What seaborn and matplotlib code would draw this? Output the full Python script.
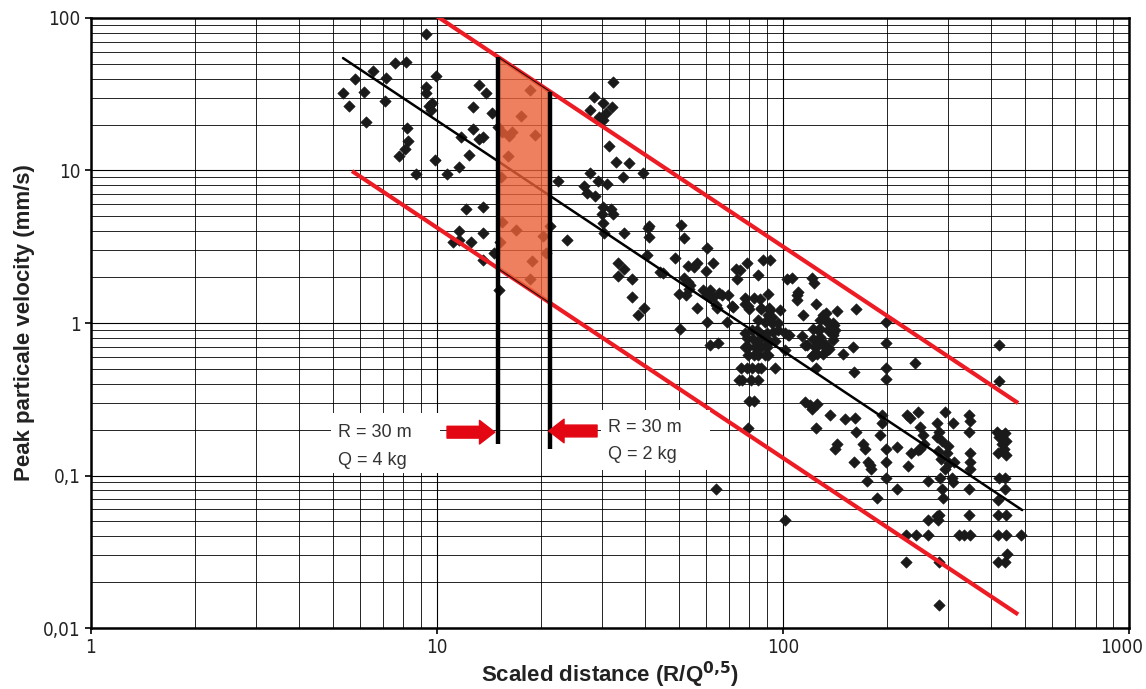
import numpy as np
import pandas as pd
import matplotlib.pyplot as plt
import matplotlib.transforms as mtransforms
import seaborn as sns
from matplotlib.patches import Rectangle
from matplotlib.ticker import NullFormatter

# measured blasts: scaled distance (R/Q^0.5) and peak particle velocity (mm/s)
scaled_distance = [
    5.34, 5.58, 5.78, 6.14, 6.23, 6.52, 7.11, 7.09, 7.56, 8.12, 8.17, 8.26, 8.09, 7.78, 8.67,
    9.3, 9.29, 9.29, 9.69, 9.5, 9.59, 9.91, 9.87,
    10.66, 11.6, 12.4, 12.7, 13.2, 13.6, 11.7, 13.2, 13.9, 12.7, 14.4, 12.1, 13.6, 11.6, 13.6,
    11.1, 11.6, 12.5, 13.6, 14.6, 15.1, 15.0,
    18.6, 17.5, 15.4, 16.5, 16.1, 19.2, 16.0, 15.3, 15.4, 16.9, 15.2, 20.2, 18.8, 20.7, 18.6, 21.2,
    22.3, 23.7, 32.2, 28.5, 27.6, 30.1, 32.0, 30.8, 29.3, 30.1, 31.5, 32.9, 35.9, 34.4, 39.5,
    27.6, 29.1, 30.9, 26.6, 27.1, 28.6, 30.1, 31.8, 29.9, 32.2, 30.2, 34.8, 30.4, 33.4, 34.7,
    33.3, 36.7, 36.5, 40.7, 41.1, 40.9, 40.4, 39.7, 38.2, 44.1, 45.1,
    48.7, 50.6, 51.9, 60.1, 53.2, 55.3, 56.3, 59.9, 62.8, 51.7, 53.2, 50.2, 52.6, 53.6, 56.3,
    50.4, 58.9, 61.5, 60.4, 62.6, 65.4, 66.5, 69.2, 64.3, 71.5, 60.1, 68.7, 61.5, 65.0, 53.8,
    61.6, 64.0, 64.0, 71.3,
    73.1, 75.1, 73.5, 78.5, 84.9, 87.7, 91.7, 77.6, 79.4, 82.4, 85.8, 90.2, 86.2, 91.2, 92.7,
    77.6, 79.8, 86.3, 91.6, 97.9, 90.6, 84.9, 88.7, 92.7, 96.9,
    77.6, 81.1, 83.9, 86.7, 89.7, 93.7, 96.9, 101.3, 103.6, 78.5, 82.0, 84.9, 89.7, 94.8, 90.6,
    77.6, 79.4, 83.1, 86.3, 89.7, 101.3, 79.4, 82.4, 84.9, 88.7, 90.6,
    75.7, 78.5, 81.1, 84.9, 86.3, 94.8, 74.6, 76.2, 80.7, 84.9, 79.8, 82.4, 79.4,
    102.5, 106.0, 121.0, 123.0, 109.6, 110.7, 124.4, 114.5, 103.8, 113.2, 130.8, 133.0, 128.0,
    132.0, 126.5, 122.4, 133.6, 139.7, 138.3, 140.4, 135.2, 141.3, 128.0, 139.0, 139.7, 139.7,
    128.0, 122.4, 117.0, 115.8, 123.6, 126.5, 130.3, 132.0, 135.0, 133.6, 136.2, 125.0, 130.3,
    122.4, 121.6, 143.0, 162.5, 158.8, 149.3, 160.4, 124.4, 109.6,
    198.5, 198.5, 198.5, 198.5, 241.0, 421.0, 421.0,
    115.6, 120.0, 125.0, 121.0, 124.7, 136.7, 151.0, 161.4, 163.0, 192.8, 192.8, 190.5, 143.5,
    141.3, 170.6, 172.6, 160.7, 178.4, 199.0, 199.0, 213.0, 227.6, 232.8, 246.0, 249.0, 253.0,
    233.9, 249.0, 279.0, 283.0, 294.0, 278.0, 287.5, 300.7, 310.6, 343.6, 347.4, 345.3, 347.0,
    347.0, 347.0, 416.0, 438.5, 428.5, 419.0, 435.5, 441.5, 287.0, 301.0, 229.0, 246.0, 422.0,
    441.0, 176.0, 179.0, 255.0, 281.0, 297.0, 312.0, 294.0,
    174.6, 187.4, 198.5, 213.0, 263.0, 284.5, 287.5, 289.0, 307.0, 310.6, 345.0, 422.0, 438.0,
    438.0, 418.0,
    263.0, 278.0, 283.0, 280.0, 345.0, 418.0, 441.0,
    227.0, 243.0, 263.0, 321.5, 333.6, 347.4, 418.0, 441.0, 486.0,
    227.0, 283.0, 418.0, 445.0, 438.0, 283.0, 101.0,
]
ppv = [
    32.1, 26.5, 39.8, 32.9, 20.9, 45.1, 40.3, 28.7, 50.9, 51.7, 18.9, 15.7, 13.8, 12.5, 9.5,
    78.5, 35.5, 32.4, 27.9, 26.5, 24.9, 41.7, 11.7,
    9.5, 10.6, 12.6, 18.6, 16.1, 16.5, 16.6, 36.4, 32.4, 25.9, 23.7, 5.6, 5.8, 4.0, 3.9,
    3.4, 3.5, 3.4, 2.59, 2.87, 1.64, 19.3,
    33.7, 22.9, 17.9, 17.9, 16.9, 17.1, 12.5, 9.1, 4.6, 4.1, 3.4, 3.7, 2.56, 2.87, 1.95, 4.3,
    8.5, 3.5, 38.2, 30.5, 24.9, 27.6, 25.9, 23.9, 22.5, 21.4, 14.5, 11.4, 11.2, 9.0, 9.7,
    9.7, 8.5, 8.2, 7.9, 7.1, 6.8, 5.8, 5.6, 5.2, 5.2, 4.5, 3.9, 3.9, 2.46, 2.26,
    2.04, 1.95, 1.49, 4.2, 4.3, 3.65, 2.79, 1.25, 1.13, 2.17, 2.12,
    2.66, 4.4, 3.59, 3.09, 2.37, 2.32, 2.49, 2.2, 2.49, 1.96, 1.87, 1.54, 1.53, 1.66, 1.25,
    0.92, 1.64, 1.64, 1.53, 1.49, 1.58, 1.53, 1.53, 1.26, 1.28, 1.02, 1.02, 0.72, 0.74, 1.77,
    1.47, 1.31, 0.081, 1.29,
    2.25, 2.23, 1.95, 2.49, 2.07, 2.59, 2.59, 1.45, 1.29, 1.45, 1.43, 1.54, 1.25, 1.25, 1.1,
    1.33, 1.23, 1.23, 1.22, 1.22, 1.13, 1.05, 1.02, 1.0, 1.0,
    0.855, 0.9, 0.9, 0.83, 0.855, 0.87, 0.9, 0.855, 0.83, 0.795, 0.78, 0.76, 0.78, 0.76, 0.74,
    0.70, 0.70, 0.70, 0.70, 0.70, 0.665, 0.62, 0.62, 0.62, 0.62, 0.62,
    0.51, 0.51, 0.51, 0.51, 0.51, 0.51, 0.42, 0.42, 0.42, 0.42, 0.31, 0.31, 0.204,
    1.94, 1.96, 1.96, 1.82, 1.53, 1.6, 1.33, 1.13, 0.83, 0.82, 1.13, 1.16, 1.05,
    1.07, 0.9, 0.92, 1.02, 1.0, 0.95, 0.97, 0.9, 0.9, 0.91, 0.86, 0.83, 0.77,
    0.81, 0.79, 0.72, 0.72, 0.70, 0.72, 0.72, 0.73, 0.70, 0.67, 0.68, 0.63, 0.63,
    0.62, 0.61, 1.19, 1.23, 0.70, 0.63, 0.48, 0.51, 1.42,
    1.02, 0.74, 0.51, 0.43, 0.55, 0.72, 0.417,
    0.305, 0.29, 0.295, 0.275, 0.204, 0.25, 0.234, 0.237, 0.194, 0.25, 0.22, 0.185, 0.162,
    0.15, 0.162, 0.149, 0.123, 0.117, 0.15, 0.123, 0.153, 0.25, 0.237, 0.262, 0.209, 0.185,
    0.14, 0.149, 0.22, 0.194, 0.262, 0.18, 0.169, 0.155, 0.222, 0.25, 0.229, 0.194, 0.14,
    0.123, 0.111, 0.194, 0.19, 0.162, 0.14, 0.15, 0.136, 0.129, 0.12, 0.115, 0.147, 0.18,
    0.168, 0.123, 0.111, 0.162, 0.144, 0.14, 0.123, 0.111,
    0.092, 0.071, 0.097, 0.081, 0.092, 0.097, 0.081, 0.071, 0.097, 0.09, 0.082, 0.097, 0.097,
    0.082, 0.069,
    0.051, 0.054, 0.055, 0.051, 0.055, 0.055, 0.055,
    0.041, 0.041, 0.041, 0.041, 0.041, 0.041, 0.041, 0.041, 0.041,
    0.0272, 0.0272, 0.0272, 0.0308, 0.0272, 0.0142, 0.051,
]

# attenuation law PPV = k * SD^-b (mean and bounds)
b_exp = 1.51
k_mean, k_upper, k_lower = 687.0, 3319.0, 136.5
mean_range = (5.35, 491.0)
upper_range = (9.9, 478.0)
lower_range = (5.68, 478.0)

# scaled distances for R = 30 m with Q = 4 kg and Q = 2 kg
sd_q4 = 30 / 4 ** 0.5
sd_q2 = 30 / 2 ** 0.5
marker_bottom = [0.16, 0.15]

x_ticks = [1, 10, 100, 1000]
x_labels = ['1', '10', '100', '1000']
y_ticks = [0.01, 0.1, 1, 10, 100]
y_labels = ['0,01', '0,1', '1', '10', '100']

sns.set_style('white')
plt.rcParams['font.family'] = ['Liberation Sans', 'DejaVu Sans']

fig, ax = plt.subplots(figsize=(11.46, 6.89), dpi=100)
fig.subplots_adjust(left=0.0794, right=0.9852, top=0.9739, bottom=0.0885)

df = pd.DataFrame({'sd': scaled_distance, 'ppv': ppv})
sns.scatterplot(data=df, x='sd', y='ppv', marker='D', color='#1a1a1a', s=34,
                edgecolor='#1a1a1a', linewidth=0.4, ax=ax, zorder=3)

ax.set_xscale('log')
ax.set_yscale('log')
ax.set_xlim(1, 1000)
ax.set_ylim(0.01, 100)


def law(k, x):
    return k * x ** (-b_exp)


xm = np.geomspace(*mean_range, 60)
ax.plot(xm, law(k_mean, xm), color='black', lw=1.8, zorder=4)
for k, rng in [(k_upper, upper_range), (k_lower, lower_range)]:
    xr = np.geomspace(*rng, 60)
    ax.plot(xr, law(k, xr), color='#ED1C24', lw=3, zorder=4, solid_capstyle='butt')

# shaded band between Q = 4 kg and Q = 2 kg
xb = np.geomspace(sd_q4, sd_q2, 30)
ax.fill_between(xb, law(k_lower, xb), law(k_upper, xb), facecolor='#EA6038',
                alpha=0.8, edgecolor='black', lw=0.8, zorder=5)
ax.vlines([sd_q4, sd_q2], marker_bottom, [law(k_upper, sd_q4), law(k_upper, sd_q2)],
          color='black', lw=3.2, zorder=6)

# grid
ax.set_axisbelow(True)
ax.grid(which='major', color='black', lw=0.8)
ax.grid(which='minor', color='black', lw=0.6)
ax.set_xticks(x_ticks)
ax.set_xticklabels(x_labels)
ax.set_yticks(y_ticks)
ax.set_yticklabels(y_labels)
ax.xaxis.set_minor_formatter(NullFormatter())
ax.yaxis.set_minor_formatter(NullFormatter())
ax.tick_params(which='minor', length=0)
ax.tick_params(which='major', length=4, width=1.2, color='black', labelsize=13.5,
               labelcolor='#222222', bottom=True, left=True)
for lbl in ax.get_xticklabels() + ax.get_yticklabels():
    lbl.set_family(['DejaVu Sans', 'Liberation Sans'])
    lbl.set_fontstretch('condensed')
# nudge the last x label so it stays inside the figure
last = ax.get_xticklabels()[-1]
last.set_transform(last.get_transform() +
                   mtransforms.ScaledTranslation(-5 / 72, 0, fig.dpi_scale_trans))
for sp in ax.spines.values():
    sp.set_linewidth(1.8)
    sp.set_color('black')

ax.set_xlabel(r'Scaled distance (R/Q$^{\mathbf{0{,}5}}$)', fontsize=16,
              fontweight='bold', color='#222222', labelpad=2)
ax.set_ylabel('Peak particale velocity (mm/s)', fontsize=16, fontweight='bold',
              color='#222222', labelpad=6)

# annotation boxes and arrows
boxes = [((0.231, 0.254), 'R = 30 m', 'Q = 4 kg', 0.238, 0.321, 0.275),
         ((0.491, 0.259), 'R = 30 m', 'Q = 2 kg', 0.498, 0.328, 0.284)]
for (bx, by), t1, t2, tx, ty1, ty2 in boxes:
    ax.add_patch(Rectangle((bx, by), 0.105, 0.098, transform=ax.transAxes,
                           facecolor='white', edgecolor='none', zorder=7))
    for t, ty in [(t1, ty1), (t2, ty2)]:
        ax.text(tx, ty, t, transform=ax.transAxes, fontsize=13, color='#333333',
                va='center', ha='left', zorder=8)

arrow_style = 'simple,head_length=1.1,head_width=1.7,tail_width=0.85'
for tail, tip, yy in [(0.343, 0.389, 0.321), (0.4875, 0.441, 0.323)]:
    ax.annotate('', xy=(tip, yy), xytext=(tail, yy), xycoords='axes fraction',
                arrowprops=dict(arrowstyle=arrow_style, color='#E30613',
                                mutation_scale=10, shrinkA=0, shrinkB=0), zorder=8)

plt.savefig('out.png', dpi=100)
